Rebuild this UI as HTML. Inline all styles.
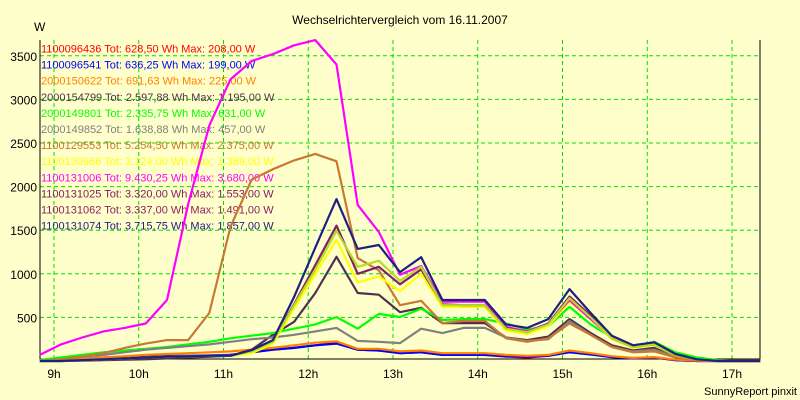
<!DOCTYPE html>
<html><head><meta charset="utf-8"><style>
html,body{margin:0;padding:0;background:#ffffcc;}
svg{display:block;font-family:"Liberation Sans",sans-serif;}
</style></head><body>
<svg id="chart" width="800" height="400" viewBox="0 0 800 400">
<rect x="0" y="0" width="800" height="400" fill="#ffffcc"/>
<text x="400" y="24" font-size="12" text-anchor="middle" fill="#000">Wechselrichtervergleich vom 16.11.2007</text>
<text x="34" y="31" font-size="12" fill="#000">W</text>
<text x="797" y="395" font-size="11" text-anchor="end" fill="#000">SunnyReport pinxit</text>
<g id="grid"></g>
<g id="axes"></g>
<g id="legend"></g>
<g id="series"></g>
</svg>
<script>
const times = [8.833,9.083,9.333,9.583,9.833,10.083,10.333,10.583,10.833,11.083,11.333,11.583,11.833,12.083,12.333,12.583,12.833,13.083,13.333,13.583,13.833,14.083,14.333,14.583,14.833,15.083,15.333,15.583,15.833,16.083,16.333,16.583,16.833,17.083,17.333];
const yTicks = [500,1000,1500,2000,2500,3000,3500];
const xTicks = [9,10,11,12,13,14,15,16,17];
const xTickLabels = ["9h","10h","11h","12h","13h","14h","15h","16h","17h"];
const names = ["1100096436","1100096541","2000150622","2000154799","2000149801","2000149852","1100129553","1100130966","1100131006","1100131025","1100131062","1100131074"];
const totals = ["628,50","636,25","691,63","2.597,88","2.335,75","1.638,88","5.254,50","3.124,00","9.430,25","3.320,00","3.337,00","3.715,75"];
const maxes = ["208,00","199,00","225,00","1.195,00","631,00","457,00","2.375,00","1.389,00","3.680,00","1.553,00","1.491,00","1.857,00"];
const sRed = [0,5,15,25,35,45,50,55,60,70,100,130,150,180,208,130,120,90,100,70,70,70,50,40,60,110,80,50,30,40,10,0,0,0,0];
const sBlue = [0,10,25,40,50,55,60,60,65,70,100,130,150,180,199,130,120,90,100,70,70,70,55,50,60,100,75,45,30,40,10,0,0,0,0];
const sOrange = [0,10,25,40,55,70,80,90,100,110,130,150,180,210,225,140,140,110,120,90,90,90,70,60,70,120,90,55,35,45,15,5,0,0,0];
const sDarkPurple = [0,0,5,10,15,20,30,40,50,60,130,300,450,780,1195,780,760,560,610,435,435,435,270,240,280,480,320,180,120,150,50,15,0,0,0];
const sGreen = [10,40,70,100,120,140,160,190,220,260,290,320,370,420,505,370,540,505,600,470,480,480,430,360,400,620,420,270,170,220,100,40,10,0,0];
const sGray = [0,20,50,70,100,130,150,170,190,220,250,270,300,340,380,230,220,205,370,320,380,380,270,230,250,457,300,160,110,130,50,15,0,0,0];
const sBrown = [0,20,50,90,150,200,240,240,550,1540,2080,2200,2300,2375,2290,1180,1040,640,690,435,460,460,260,220,260,430,300,160,100,110,40,10,0,0,0];
const sYellow = [0,0,10,20,30,40,50,55,60,60,90,200,600,1000,1389,900,970,800,1000,620,620,620,350,310,400,680,480,250,150,180,65,15,0,0,0];
const sMagenta = [70,190,270,340,380,430,700,1800,2700,3230,3440,3520,3620,3680,3400,1790,1480,990,1090,680,680,680,390,340,430,700,480,270,170,200,70,15,0,0,0];
const sPurple = [0,0,10,20,30,40,50,55,60,60,120,230,650,1100,1553,1000,1080,880,1050,650,640,640,380,330,430,740,520,260,160,190,70,15,0,0,0];
const sYellowGreen = [0,0,10,20,30,40,50,55,60,60,110,220,640,1050,1491,1080,1150,920,1080,640,640,640,370,330,420,720,500,260,160,190,70,15,0,0,0];
const sNavy = [0,0,10,20,30,40,50,55,60,60,125,240,735,1300,1857,1285,1330,1020,1190,700,700,700,420,380,480,825,550,290,180,215,80,20,0,0,0];
const seriesData = [sRed,sBlue,sOrange,sDarkPurple,sGreen,sGray,sBrown,sYellow,sMagenta,sPurple,sYellowGreen,sNavy];
const lineColors = ["#ff0000","#0000ff","#ff8000","#503050","#00ff00","#808080","#c87832","#ffff00","#ff00ff","#802060","#b4dc28","#202080"];
const textColors = ["#ff0000","#0000ff","#ff8000","#503050","#00ff00","#808080","#c87832","#ffff00","#ff00ff","#802060","#902060","#202080"];

const NS="http://www.w3.org/2000/svg";
const L=40,R=760,T=40,B=359;
function xs(t){return 54+(t-9)*84.75;}
function ys(v){return 361-v*0.0872;}
function mk(tag,parent,attrs){const e=document.createElementNS(NS,tag);for(const k in attrs)e.setAttribute(k,attrs[k]);parent.appendChild(e);return e;}
const grid=document.getElementById('grid'),axes=document.getElementById('axes'),leg=document.getElementById('legend'),ser=document.getElementById('series');
yTicks.forEach(v=>{
  const g=mk('line',grid,{x1:L,x2:R,y1:ys(v),y2:ys(v),stroke:'#00dd00','stroke-dasharray':'4,3','stroke-width':1});
  
  
  const t=mk('text',axes,{x:37,y:ys(v)+5,'font-size':12,'text-anchor':'end',fill:'#000'});
  t.textContent=v;
  
  
});
xTicks.forEach((h,i)=>{
  const g=mk('line',grid,{x1:xs(h),x2:xs(h),y1:T,y2:B,stroke:'#00dd00','stroke-dasharray':'4,3','stroke-width':1});
  
  
  const t=mk('text',axes,{x:xs(h),y:378,'font-size':12,'text-anchor':'middle',fill:'#000'});
  t.textContent=xTickLabels[i];
  
  
});
const ax=mk('path',axes,{d:`M${L},${T}V${B}H${R}V${T}`,fill:'none',stroke:'#000','stroke-width':1});


names.forEach((n,i)=>{
  const t=mk('text',leg,{x:41,y:52.5+i*16.1,'font-size':11,fill:textColors[i]});
  t.textContent=n+" Tot: "+totals[i]+" Wh Max: "+maxes[i]+" W";
  
  
});
seriesData.forEach((s,i)=>{
  const pts=s.map((v,k)=>xs(times[k]).toFixed(1)+","+ys(v).toFixed(1)).join(" ");
  const p=mk('polyline',ser,{points:pts,fill:'none',stroke:lineColors[i],'stroke-width':2.2,'stroke-linejoin':'round'});
  
  
});
</script>
</body></html>
